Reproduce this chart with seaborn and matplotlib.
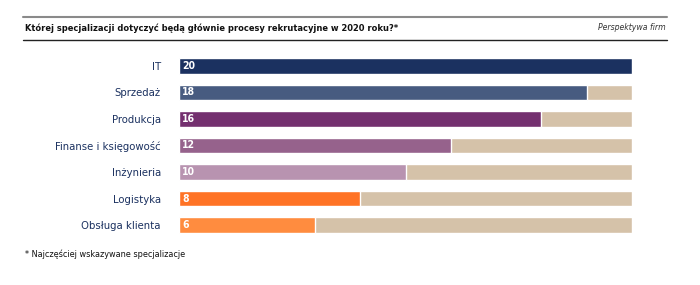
import matplotlib
matplotlib.use("Agg")
import matplotlib.pyplot as plt
import seaborn as sns
import pandas as pd
from matplotlib.lines import Line2D

categories = ["IT", "Sprzedaż", "Produkcja", "Finanse i księgowość", "Inżynieria", "Logistyka", "Obsługa klienta"]
values = [20, 18, 16, 12, 10, 8, 6]
max_value = 20
bar_colors = ["#1b3160", "#475b80", "#74306f", "#96628c", "#b893b0", "#ff7325", "#ff8c3f"]
bg_color = "#d5c2a9"
title = "Której specjalizacji dotyczyć będą głównie procesy rekrutacyjne w 2020 roku?*"
subtitle = "Perspektywa firm"
footnote = "* Najczęściej wskazywane specjalizacje"

sns.set_theme(style="white")
plt.rcParams['font.family'] = ['DejaVu Sans']
plt.rcParams['font.stretch'] = 'condensed'

df = pd.DataFrame({"cat": categories, "val": values, "full": [max_value] * len(values)})

fig = plt.figure(figsize=(7, 2.85), dpi=100)
ax = fig.add_axes([0.2557, 0.164, 0.9029 - 0.2557, 0.815 - 0.164])

sns.barplot(data=df, y="cat", x="full", color=bg_color, width=0.57, ax=ax, orient="h", saturation=1)
sns.barplot(data=df, y="cat", x="val", hue="cat", palette=bar_colors, width=0.57, ax=ax,
            orient="h", saturation=1, legend=False)

ax.set_xlim(0, max_value)
ax.set_ylim(6.5, -0.5)
ax.set_xlabel("")
ax.set_ylabel("")
ax.set_xticks([])
for s in ax.spines.values():
    s.set_visible(False)
ax.tick_params(axis="y", length=0, pad=13, labelsize=8.1, labelcolor="#1b3160")

for i, v in enumerate(values):
    ax.text(0.15, i, str(v), color="white", fontweight="bold", fontsize=7.5,
            va="center", ha="left")

fig.add_artist(Line2D([23/700, 667/700], [1 - 17/285, 1 - 17/285], color="#8a8a8a", lw=1.5))
fig.add_artist(Line2D([23/700, 667/700], [1 - 39.5/285, 1 - 39.5/285], color="#222222", lw=1.0))
fig.text(25/700, 1 - 28/285, title, fontsize=6.7, fontweight="bold", color="#111111", va="center", ha="left")
fig.text(666/700, 1 - 28/285, subtitle, fontsize=6.2, style="italic", color="#333333", va="center", ha="right")
fig.text(25/700, 1 - 254/285, footnote, fontsize=6.5, color="#111111", va="center", ha="left")

fig.savefig("out.png", dpi=100, facecolor="white")
